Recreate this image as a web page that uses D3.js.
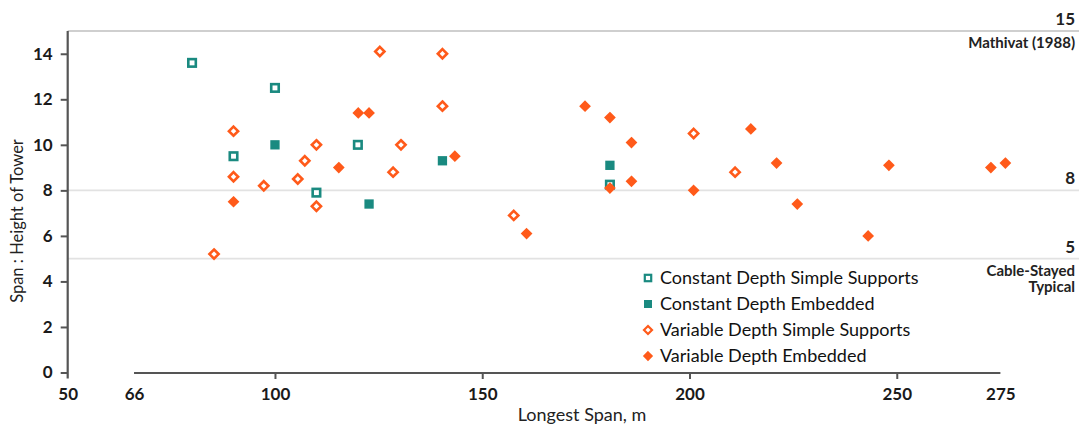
<!DOCTYPE html>
<html>
<head>
<meta charset="utf-8">
<script src="https://cdn.jsdelivr.net/npm/d3@7"></script>
<style>
  html, body { margin: 0; padding: 0; background: #fff; }
  svg { display: block; font-family: Lato, "Liberation Sans", sans-serif; }
</style>
</head>
<body>
<svg id="chart" width="1079" height="427"></svg>
<script>
// Longest span (m) and span : tower-height ratio, one pair of arrays per bridge type
const cdssSpan  = [80, 100, 90, 120, 110, 180.8];
const cdssRatio = [13.6, 12.5, 9.5, 10.0, 7.9, 8.25];

const cdeSpan  = [100, 122.7, 140.4, 180.8];
const cdeRatio = [10.0, 7.4, 9.3, 9.1];

const vdssSpan  = [85.3, 90, 90, 97.3, 105.5, 107.2, 110, 110, 125.3, 140.4, 140.4, 128.5, 130.4, 157.6, 201, 211];
const vdssRatio = [5.2, 10.6, 8.6, 8.2, 8.5, 9.3, 10.0, 7.3, 14.1, 14.0, 11.7, 8.8, 10.0, 6.9, 10.5, 8.8];

const vdeSpan  = [90, 115.4, 120.1, 122.7, 143.4, 160.7, 174.8, 180.8, 180.8, 186, 186, 201, 214.8, 221, 226, 243.1, 248.1, 272.7, 276.2];
const vdeRatio = [7.5, 9.0, 11.4, 11.4, 9.5, 6.1, 11.7, 11.2, 8.1, 10.1, 8.4, 8.0, 10.7, 9.2, 7.4, 6.0, 9.1, 9.0, 9.2];

const seriesNames = [
  "Constant Depth Simple Supports",
  "Constant Depth Embedded",
  "Variable Depth Simple Supports",
  "Variable Depth Embedded"
];

const xTickValues = [50, 66, 100, 150, 200, 250, 275];
const yTickValues = [0, 2, 4, 6, 8, 10, 12, 14];

// Reference ratio lines with their right-hand labels
const refValues = [15, 8, 5];
const refLabels = ["15", "8", "5"];
const refNotes  = [["Mathivat (1988)"], [], ["Cable-Stayed", "Typical"]];

const TEAL = "#1a8a80";
const ORANGE = "#ff5a1a";

const svg = d3.select("#chart");
const W = 1079;

const x = d3.scaleLinear().domain([50, 275]).range([67.7, 1000.4]);
const y = d3.scaleLinear().domain([0, 15]).range([372.5, 31]);

// reference lines
refValues.forEach((v, i) => {
  svg.append("line")
    .attr("x1", x(50)).attr("x2", W)
    .attr("y1", y(v)).attr("y2", y(v))
    .attr("stroke", i === 0 ? "#cfcfcf" : "#e2e2e2")
    .attr("stroke-width", i === 0 ? 2.2 : 1.6);
  svg.append("text")
    .attr("x", 1075).attr("y", y(v) - 6)
    .attr("text-anchor", "end")
    .attr("font-size", 17).attr("font-weight", 700)
    .attr("fill", "#222")
    .text(refLabels[i]);
  refNotes[i].forEach((t, j) => {
    svg.append("text")
      .attr("x", 1075).attr("y", y(v) + 17 + j * 16)
      .attr("text-anchor", "end")
      .attr("font-size", 15).attr("font-weight", 700)
      .attr("fill", "#222")
      .text(t);
  });
});

// y axis
const yAxis = svg.append("g")
  .attr("transform", `translate(${x(50)},0)`)
  .call(d3.axisLeft(y).tickValues(yTickValues).tickSize(7).tickSizeOuter(0).tickPadding(8));
yAxis.select(".domain").attr("stroke", "#555").attr("stroke-width", 2.2)
  .attr("d", `M0,${y(15)}V${y(0) + 6}`);
yAxis.selectAll(".tick line").attr("stroke", "#555").attr("stroke-width", 2);
yAxis.selectAll(".tick text")
  .attr("font-size", 17).attr("font-weight", 700).attr("fill", "#1a1a1a")
  .attr("font-family", "Lato, sans-serif");

// x axis
const xAxis = svg.append("g")
  .attr("transform", `translate(0,${y(0) + 0.5})`)
  .call(d3.axisBottom(x).tickValues(xTickValues).tickSize(6).tickSizeOuter(0).tickPadding(9));
xAxis.select(".domain").attr("stroke", "#555").attr("stroke-width", 2.2)
  .attr("d", `M${x(66)},0H${x(275)}`);
xAxis.selectAll(".tick line")
  .attr("stroke", "#555").attr("stroke-width", 2)
  .attr("display", d => (d === 50 || d === 66 || d === 275) ? "none" : null);
xAxis.selectAll(".tick text")
  .attr("font-size", 17).attr("font-weight", 700).attr("fill", "#1a1a1a")
  .attr("font-family", "Lato, sans-serif");

// axis titles
svg.append("text")
  .attr("x", 582).attr("y", 421)
  .attr("text-anchor", "middle")
  .attr("font-size", 18).attr("fill", "#222")
  .text("Longest Span, m");

svg.append("text")
  .attr("transform", "translate(23,221) rotate(-90)")
  .attr("text-anchor", "middle")
  .attr("font-size", 16.5).attr("fill", "#222")
  .text("Span : Height of Tower");

// marker drawing
const sq = 7.5, dm = 4.6;
function squares(g, xs, ys, open) {
  g.selectAll(null).data(xs.map((v, i) => [v, ys[i]])).enter()
    .append("rect")
    .attr("x", d => x(d[0]) - sq / 2).attr("y", d => y(d[1]) - sq / 2)
    .attr("width", sq).attr("height", sq)
    .attr("fill", open ? "#fff" : TEAL)
    .attr("stroke", TEAL).attr("stroke-width", open ? 2.6 : 1.8);
}
function diamonds(g, xs, ys, open) {
  g.selectAll(null).data(xs.map((v, i) => [v, ys[i]])).enter()
    .append("path")
    .attr("d", d => {
      const cx = x(d[0]), cy = y(d[1]);
      return `M${cx},${cy - dm}L${cx + dm},${cy}L${cx},${cy + dm}L${cx - dm},${cy}Z`;
    })
    .attr("fill", open ? "#fff" : ORANGE)
    .attr("stroke", ORANGE).attr("stroke-width", open ? 2.6 : 1.8);
}

const pts = svg.append("g");
squares(pts.append("g"), cdssSpan, cdssRatio, true);
squares(pts.append("g"), cdeSpan, cdeRatio, false);
diamonds(pts.append("g"), vdssSpan, vdssRatio, true);
diamonds(pts.append("g"), vdeSpan, vdeRatio, false);

// legend
const legend = svg.append("g").attr("transform", "translate(648,278)");
seriesNames.forEach((name, i) => {
  const row = legend.append("g").attr("transform", `translate(0,${i * 26})`);
  if (i < 2) {
    row.append("rect").attr("x", -3.2).attr("y", -3.2).attr("width", 6.4).attr("height", 6.4)
      .attr("fill", i === 0 ? "#fff" : TEAL).attr("stroke", TEAL).attr("stroke-width", i === 0 ? 2.2 : 1.6);
  } else {
    const r = 4;
    row.append("path").attr("d", `M0,${-r}L${r},0L0,${r}L${-r},0Z`)
      .attr("fill", i === 2 ? "#fff" : ORANGE).attr("stroke", ORANGE).attr("stroke-width", i === 2 ? 2.2 : 1.6);
  }
  row.append("text")
    .attr("x", 12).attr("y", 0).attr("dy", "0.35em")
    .attr("font-size", 18).attr("fill", "#111")
    .text(name);
});
</script>
</body>
</html>
